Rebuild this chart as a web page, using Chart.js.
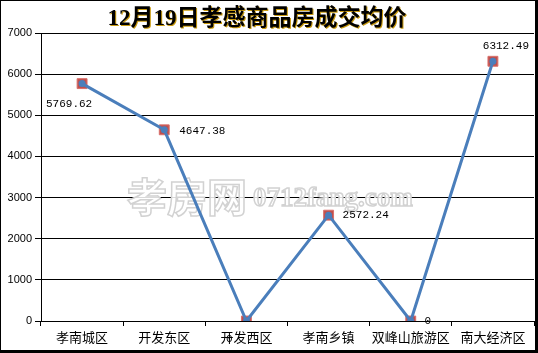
<!DOCTYPE html>
<html>
<head>
<meta charset="utf-8">
<script src="https://cdn.jsdelivr.net/npm/chart.js@4"></script>
<style>
  html, body { margin: 0; padding: 0; background: #fff; }
  #frame {
    width: 538px; height: 353px; box-sizing: border-box;
    border-left: 1px solid #000; border-top: 1px solid #000;
    border-right: 3px solid #000; border-bottom: 3px solid #000;
  }
  canvas { display: block; }
</style>
</head>
<body>
<div id="frame"><canvas id="chart" width="534" height="349"></canvas></div>
<script>
(function() {

  "use strict";

  var titleText = "12月19日孝感商品房成交均价";
  var districts = ["孝南城区", "开发东区", "开发西区", "孝南乡镇", "双峰山旅游区", "南大经济区"];
  var avgPrice = [5769.62, 4647.38, 0, 2572.24, 0, 6312.49];
  var priceLabels = ["5769.62", "4647.38", "0", "2572.24", "0", "6312.49"];
  var yTicks = [0, 1000, 2000, 3000, 4000, 5000, 6000, 7000];

  // where each value label sits relative to its point: [dx, dy, align]
  var labelPos = [[-13, 20, "center"], [15, 1, "left"], [-17, 18, "center"],
                  [14, 0, "left"], [17, 0, "center"], [13, -15, "center"]];

  var extras = {
    id: "extras",
    beforeDatasetsDraw: function(chart) {
      var ctx = chart.ctx;
      ctx.save();
      ctx.textBaseline = "alphabetic";
      ctx.lineWidth = 1.5;
      ctx.strokeStyle = "#d2d2d2";
      ctx.fillStyle = "rgba(255,255,255,0.85)";
      ctx.font = "bold 40px 'Noto Sans CJK SC'";
      ctx.textAlign = "left";
      ctx.fillText("孝房网", 126, 211);
      ctx.strokeText("孝房网", 126, 211);
      ctx.font = "bold 27px 'Liberation Serif'";
      ctx.fillText("0712fang.com", 252, 205);
      ctx.strokeText("0712fang.com", 252, 205);
      ctx.restore();
    },
    afterDatasetsDraw: function(chart) {
      var ctx = chart.ctx;
      var meta = chart.getDatasetMeta(1);
      ctx.save();
      ctx.font = "11px 'Liberation Mono'";
      ctx.fillStyle = "#000";
      ctx.textBaseline = "middle";
      meta.data.forEach(function(pt, i) {
        var p = labelPos[i];
        ctx.textAlign = p[2];
        ctx.fillText(priceLabels[i], pt.x + p[0], pt.y + p[1]);
      });
      ctx.restore();
    },
    afterDraw: function(chart) {
      var ctx = chart.ctx;
      ctx.save();
      ctx.font = "bold 23px 'Liberation Serif', 'Noto Sans CJK SC'";
      ctx.textAlign = "center";
      ctx.textBaseline = "middle";
      ctx.fillStyle = "#c89a10";
      ctx.fillText(titleText, 257, 19);
      ctx.fillStyle = "#000";
      ctx.fillText(titleText, 256, 18);
      ctx.restore();
    }
  };

  new Chart(document.getElementById("chart"), {
    type: "line",
    data: {
      labels: districts,
      datasets: [
        {
          label: "marker",
          data: avgPrice,
          showLine: false,
          pointStyle: "rect",
          pointRadius: 7,
          pointBackgroundColor: "#c0504d",
          pointBorderColor: "#d9706c",
          pointBorderWidth: 1,
          order: 2
        },
        {
          label: "均价",
          data: avgPrice,
          borderColor: "#4a7ebb",
          borderWidth: 3,
          tension: 0,
          pointRadius: 3.5,
          pointBackgroundColor: "#4a7ebb",
          pointBorderColor: "#4a7ebb",
          pointBorderWidth: 0,
          order: 1
        }
      ]
    },
    options: {
      responsive: false,
      animation: false,
      devicePixelRatio: 1,
      layout: { autoPadding: false, padding: { top: 32, right: 1, left: 0, bottom: 0 } },
      plugins: {
        legend: { display: false },
        tooltip: { enabled: false },
        title: { display: false }
      },
      scales: {
        x: {
          offset: true,
          afterFit: function(s) {
            s.height = 29;
            s.paddingLeft = 0;
            s.paddingRight = 0;
          },
          grid: {
            offset: true,
            drawOnChartArea: false,
            drawTicks: true,
            tickLength: 5,
            color: "#000"
          },
          border: { color: "#000", width: 1 },
          ticks: {
            color: "#000",
            padding: 3,
            maxRotation: 0,
            autoSkip: false,
            font: { family: "'Noto Sans CJK SC'", size: 13 }
          }
        },
        y: {
          min: yTicks[0],
          max: yTicks[yTicks.length - 1],
          afterFit: function(s) { s.width = 40; },
          afterBuildTicks: function(s) {
            s.ticks = yTicks.map(function(v) { return { value: v }; });
          },
          grid: {
            color: "#000",
            tickLength: 6,
            drawTicks: true
          },
          border: { color: "#000", width: 1 },
          ticks: {
            color: "#000",
            padding: 3,
            callback: function(v) { return String(v); },
            font: { family: "'Liberation Sans'", size: 11 }
          }
        }
      }
    },
    plugins: [extras]
  });

})();
</script>
</body>
</html>
